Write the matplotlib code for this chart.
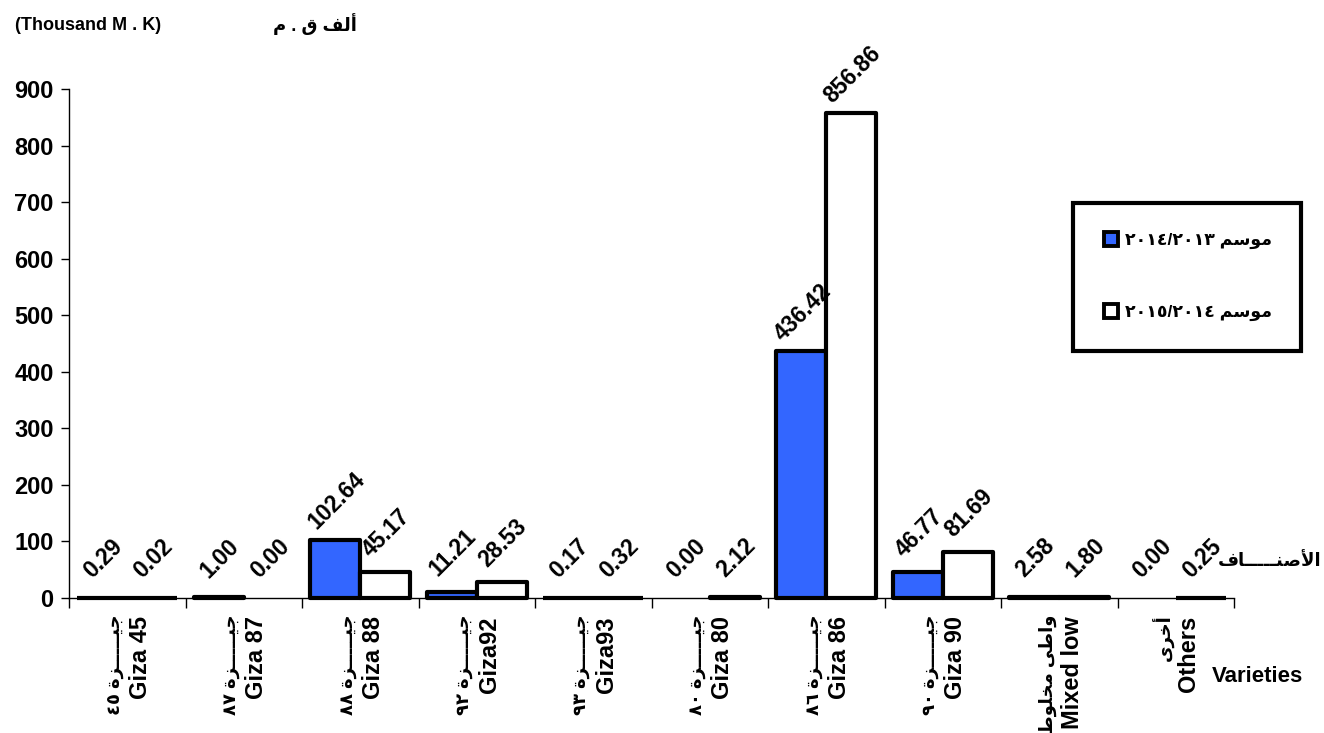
import numpy as np
import matplotlib
matplotlib.use('Agg')
import matplotlib.pyplot as plt
from matplotlib.lines import Line2D

plt.rcParams['font.family'] = ['Liberation Sans', 'DejaVu Sans']
plt.rcParams['font.weight'] = 'bold'

varieties_en = ['Giza 45', 'Giza 87', 'Giza 88', 'Giza92', 'Giza93',
                'Giza 80', 'Giza 86', 'Giza 90', 'Mixed low', 'Others']
varieties_ar = ['جيـــــزة ٤٥', 'جيـــــزة ٨٧', 'جيـــــزة ٨٨', 'جيـــــزة ٩٢',
                'جيـــــزة ٩٣', 'جيـــــزة ٨٠', 'جيـــــزة ٨٦', 'جيـــــزة ٩٠',
                'واطى مخلوط', 'أخرى']
season_2013 = [0.29, 1.00, 102.64, 11.21, 0.17, 0.00, 436.42, 46.77, 2.58, 0.00]
season_2014 = [0.02, 0.00, 45.17, 28.53, 0.32, 2.12, 856.86, 81.69, 1.80, 0.25]
seasons_ar = ['موسم ٢٠١٣/٢٠١٤', 'موسم ٢٠١٤/٢٠١٥']
unit_en = '(Thousand M . K)'
unit_ar = 'ألف ق . م'
axis_en = 'Varieties'
axis_ar = 'الأصنـــــاف'

# matplotlib does no arabic shaping / bidi, so do a small version here
AR_FORMS = {
    'ا': ('\uFE8D', '\uFE8E'), 'أ': ('\uFE83', '\uFE84'),
    'ر': ('\uFEAD', '\uFEAE'), 'ز': ('\uFEAF', '\uFEB0'),
    'و': ('\uFEED', '\uFEEE'), 'ى': ('\uFEEF', '\uFEF0'),
    'ة': ('\uFE93', '\uFE94'),
    'ج': ('\uFE9D', '\uFE9E', '\uFE9F', '\uFEA0'),
    'خ': ('\uFEA5', '\uFEA6', '\uFEA7', '\uFEA8'),
    'س': ('\uFEB1', '\uFEB2', '\uFEB3', '\uFEB4'),
    'ص': ('\uFEB9', '\uFEBA', '\uFEBB', '\uFEBC'),
    'ط': ('\uFEC1', '\uFEC2', '\uFEC3', '\uFEC4'),
    'ف': ('\uFED1', '\uFED2', '\uFED3', '\uFED4'),
    'ق': ('\uFED5', '\uFED6', '\uFED7', '\uFED8'),
    'ل': ('\uFEDD', '\uFEDE', '\uFEDF', '\uFEE0'),
    'م': ('\uFEE1', '\uFEE2', '\uFEE3', '\uFEE4'),
    'ن': ('\uFEE5', '\uFEE6', '\uFEE7', '\uFEE8'),
    'ي': ('\uFEF1', '\uFEF2', '\uFEF3', '\uFEF4'),
}
LAM_ALEF = {'ا': ('\uFEFB', '\uFEFC'), 'أ': ('\uFEF7', '\uFEF8')}
TATWEEL = '\u0640'


def shape(text):
    toks = []
    i = 0
    while i < len(text):
        if text[i] == 'ل' and i + 1 < len(text) and text[i + 1] in LAM_ALEF:
            toks.append('LA' + text[i + 1])
            i += 2
        else:
            toks.append(text[i])
            i += 1

    def j_prev(t):
        return t == TATWEEL or t in AR_FORMS or t.startswith('LA')

    def j_next(t):
        return t == TATWEEL or (t in AR_FORMS and len(AR_FORMS[t]) == 4)

    out = []
    for k, t in enumerate(toks):
        p = k > 0 and j_next(toks[k - 1]) and j_prev(t)
        n = k < len(toks) - 1 and j_next(t) and j_prev(toks[k + 1])
        if t.startswith('LA'):
            out.append(LAM_ALEF[t[2]][1 if p else 0])
        elif t in AR_FORMS:
            f = AR_FORMS[t]
            if len(f) == 2:
                out.append(f[1] if p else f[0])
            else:
                out.append(f[3] if (p and n) else f[1] if p else f[2] if n else f[0])
        else:
            out.append(t)
    # runs of digits keep their order, everything else is reversed
    runs = []
    for c in out:
        if c.isdigit() and runs and runs[-1][-1].isdigit():
            runs[-1] += c
        else:
            runs.append(c)
    return ''.join(runs[::-1])


fig = plt.figure(figsize=(13.24, 7.33), dpi=100)
ax = fig.add_axes([69 / 1324, 135 / 733, 1165 / 1324, 509 / 733])

x = np.arange(len(varieties_en))
w = 0.43
lw1 = [3 if v > 0 else 0 for v in season_2013]
lw2 = [3 if v > 0 else 0 for v in season_2014]
ax.bar(x - w / 2, season_2013, w, color='#3366FF', edgecolor='black',
       linewidth=lw1, joinstyle='round', clip_on=False, zorder=3)
ax.bar(x + w / 2, season_2014, w, color='white', edgecolor='black',
       linewidth=lw2, joinstyle='round', clip_on=False, zorder=3)

for xs, vals in [(x - w / 2, season_2013), (x + w / 2, season_2014)]:
    for xi, v in zip(xs, vals):
        ax.annotate(f'{v:.2f}', (xi, v), xytext=(1, 28), textcoords='offset points',
                    ha='center', va='center', rotation=45, fontsize=16.5,
                    fontweight='bold', annotation_clip=False)

for i, (en, ar) in enumerate(zip(varieties_en, varieties_ar)):
    ax.annotate(en, (i, 0), xytext=(9.5, -13), textcoords='offset points',
                rotation=90, ha='center', va='top', fontsize=17,
                fontweight='bold', annotation_clip=False)
    ax.annotate(shape(ar), (i, 0), xytext=(-8.5, -12), textcoords='offset points',
                rotation=90, ha='center', va='top', fontsize=13,
                fontweight='bold', annotation_clip=False)

ax.set_xlim(-0.5, 9.5)
ax.set_ylim(0, 900)
ax.set_yticks(range(0, 901, 100))
ax.set_xticks(np.arange(-0.5, 10, 1))
ax.set_xticklabels([])
ax.tick_params(axis='x', length=7, width=1, direction='out')
ax.tick_params(axis='y', length=6, width=1, direction='out', pad=5, labelsize=17)
for lab in ax.get_yticklabels():
    lab.set_fontweight('bold')
ax.spines['top'].set_visible(False)
ax.spines['right'].set_visible(False)
ax.spines['left'].set_linewidth(1)
ax.spines['bottom'].set_linewidth(1)

fig.text(15 / 1324, 1 - 25 / 733, unit_en, ha='left', va='center', fontsize=13, fontweight='bold')
fig.text(273 / 1324, 1 - 24 / 733, shape(unit_ar), ha='left', va='center', fontsize=13, fontweight='bold')
fig.text(1212 / 1324, 1 - 677 / 733, axis_en, ha='left', va='center', fontsize=16, fontweight='bold')
fig.text(1218 / 1324, 1 - 562 / 733, shape(axis_ar), ha='left', va='center', fontsize=13, fontweight='bold')

handles = [Line2D([], [], ls='none', marker='s', markersize=9.5, mfc='#3366FF', mec='black', mew=2.8),
           Line2D([], [], ls='none', marker='s', markersize=9.5, mfc='white', mec='black', mew=2.8)]
leg = fig.legend(handles, [shape(s) for s in seasons_ar], loc='center',
                 bbox_to_anchor=(1187 / 1324, 1 - 277 / 733),
                 prop={'size': 12.5, 'weight': 'bold'}, labelspacing=3.2, borderpad=1.7,
                 handlelength=1.0, handletextpad=0.3, fancybox=False, edgecolor='black',
                 framealpha=1)
leg.get_frame().set_linewidth(3)

fig.savefig('out.png', dpi=100)
plt.close()
